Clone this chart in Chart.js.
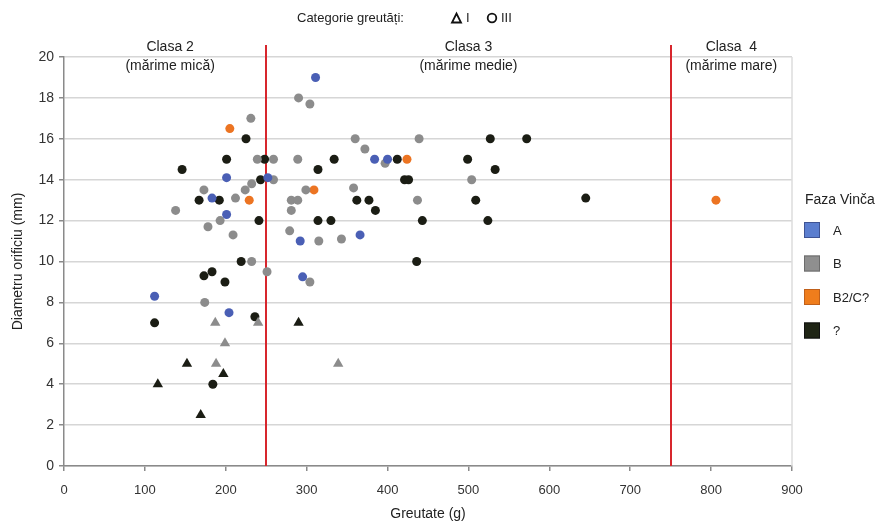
<!DOCTYPE html>
<html>
<head>
<meta charset="utf-8">
<script src="https://cdn.jsdelivr.net/npm/chart.js@4"></script>
<style>
  body { margin: 0; background: #fff; }
  canvas { display: block; }
</style>
</head>
<body>
<canvas id="chart" width="885" height="523"></canvas>
<script>
// --- data: weight (g) / orifice diameter (mm) ---
const phaseNames = ['A', 'B', 'B2/C?', '?'];

// category III (circles)
const aWeight = [112, 183, 201, 201, 204, 252, 292, 295, 311, 366, 384, 400];
const aDiam   = [8.3, 13.1, 12.3, 14.1, 7.5, 14.1, 11, 9.25, 19, 11.3, 15, 15];

const bWeight = [138, 173, 174, 178, 193, 209, 212, 224, 231, 232, 232, 239, 251, 259, 259, 279, 281, 281, 289, 289, 290, 299, 304, 304, 315, 343, 358, 360, 372, 397, 437, 439, 504];
const bDiam   = [12.5, 13.5, 8, 11.7, 12, 11.3, 13.1, 13.5, 17, 13.8, 10, 15, 9.5, 15, 14, 11.5, 13, 12.5, 13, 15, 18, 13.5, 17.7, 9, 11, 11.1, 13.6, 16, 15.5, 14.8, 13, 16, 14];

const cWeight = [205, 229, 309, 424, 806];
const cDiam   = [16.5, 13, 13.5, 15, 13];

const qWeight = [112, 146, 167, 173, 183, 184, 192, 199, 201, 219, 225, 236, 241, 243, 248, 314, 314, 330, 334, 362, 377, 385, 412, 421, 426, 436, 443, 499, 509, 524, 527, 533, 572, 645];
const qDiam   = [7, 14.5, 13, 9.3, 9.5, 4, 13, 9, 15, 10, 16, 7.3, 12, 14, 15, 14.5, 12, 12, 15, 13, 13, 12.5, 15, 14, 14, 10, 12, 15, 13, 12, 16, 14.5, 16, 13.1];

// category I (triangles)
const bTriWeight = [187, 188, 199, 240, 339];
const bTriDiam   = [7, 5, 6, 7, 5];
const qTriWeight = [116, 152, 169, 197, 290];
const qTriDiam   = [4, 5, 2.5, 4.5, 7];

// size classes
const classBounds = [0, 250, 750, 900];
const classTitles = ['Clasa 2', 'Clasa 3', 'Clasa  4'];
const classSubs = ['(mărime mică)', '(mărime medie)', '(mărime mare)'];

const pointColors = ['#4a5fb5', '#8c8c8c', '#ec7422', '#1b1d14'];
const boxColors = ['#5b7ecf', '#8f8f8f', '#ef7d1c', '#1f2515'];
const boxBorders = ['#3e5394', '#6c6c6c', '#c0601a', '#111'];

const FONT = '"Liberation Sans", Arial, Helvetica, sans-serif';

function pts(xs, ys, tri) {
  return xs.map((x, i) => ({x: x, y: ys[i], tri: tri}));
}

const series = [
  pts(aWeight, aDiam, false),
  pts(bWeight, bDiam, false).concat(pts(bTriWeight, bTriDiam, true)),
  pts(cWeight, cDiam, false),
  pts(qWeight, qDiam, false).concat(pts(qTriWeight, qTriDiam, true))
];

const datasets = phaseNames.map((name, i) => ({
  label: name,
  data: series[i],
  backgroundColor: pointColors[i],
  borderColor: pointColors[i],
  borderWidth: 0,
  pointStyle: ctx => (ctx.raw && ctx.raw.tri) ? 'triangle' : 'circle',
  pointRadius: ctx => (ctx.raw && ctx.raw.tri) ? 6 : 4.5
}));

// Extra drawing: class lines, class labels, top + right legends
const extras = {
  id: 'extras',
  beforeDatasetsDraw(chart) {
    const {ctx, chartArea, scales} = chart;
    ctx.save();
    // right border of plot
    ctx.strokeStyle = '#dcdcdc';
    ctx.lineWidth = 1.5;
    ctx.beginPath();
    ctx.moveTo(chartArea.right, chartArea.top);
    ctx.lineTo(chartArea.right, chartArea.bottom);
    ctx.stroke();
    // class boundaries
    ctx.strokeStyle = '#d7262d';
    ctx.lineWidth = 2;
    classBounds.slice(1, -1).forEach(v => {
      const px = Math.round(scales.x.getPixelForValue(v));
      ctx.beginPath();
      ctx.moveTo(px, 45);
      ctx.lineTo(px, chartArea.bottom);
      ctx.stroke();
    });
    ctx.restore();
  },
  afterDraw(chart) {
    const {ctx, scales} = chart;
    ctx.save();
    ctx.fillStyle = '#222';
    ctx.textBaseline = 'middle';
    // class labels
    ctx.textAlign = 'center';
    ctx.font = '14px ' + FONT;
    classTitles.forEach((t, i) => {
      const mid = scales.x.getPixelForValue((classBounds[i] + classBounds[i + 1]) / 2) + (i === 0 ? 5 : 0);
      ctx.fillText(t, mid, 47);
      ctx.fillText(classSubs[i], mid, 66);
    });
    // top legend: weight categories
    ctx.textAlign = 'left';
    ctx.font = '13px ' + FONT;
    ctx.fillText('Categorie greutăți:', 297, 18);
    ctx.strokeStyle = '#111';
    ctx.lineWidth = 1.8;
    ctx.beginPath();
    ctx.moveTo(452, 22.5);
    ctx.lineTo(461, 22.5);
    ctx.lineTo(456.5, 13.5);
    ctx.closePath();
    ctx.stroke();
    ctx.fillText('I', 466, 18);
    ctx.beginPath();
    ctx.arc(492, 18, 4.3, 0, Math.PI * 2);
    ctx.stroke();
    ctx.fillText('III', 501, 18);
    // right legend: Faza Vinča
    ctx.font = '14px ' + FONT;
    ctx.fillText('Faza Vinča', 805, 200);
    ctx.font = '13px ' + FONT;
    phaseNames.forEach((name, i) => {
      const cy = 230 + i * 33.5;
      ctx.fillStyle = boxColors[i];
      ctx.fillRect(804, cy - 8, 16, 16);
      ctx.strokeStyle = boxBorders[i];
      ctx.lineWidth = 1;
      ctx.strokeRect(804.5, cy - 7.5, 15, 15);
      ctx.fillStyle = '#222';
      ctx.fillText(name, 833, cy + 1);
    });
    ctx.restore();
  }
};

new Chart(document.getElementById('chart').getContext('2d'), {
  type: 'scatter',
  data: {datasets: datasets},
  options: {
    responsive: false,
    animation: false,
    layout: {padding: {left: 0, right: 93, top: 57, bottom: 0}},
    plugins: {legend: {display: false}, tooltip: {enabled: false}},
    scales: {
      x: {
        type: 'linear',
        min: 0, max: 900,
        afterFit: s => { s.height = 57; },
        ticks: {stepSize: 100, color: '#333', padding: 12, font: {family: FONT, size: 13}},
        grid: {drawOnChartArea: false, tickLength: 5, tickColor: '#8a8a8a', lineWidth: 1.5},
        border: {color: '#8a8a8a', width: 1.5},
        title: {display: true, text: 'Greutate (g)', color: '#222', font: {family: FONT, size: 14}, padding: {top: 0, bottom: 0}}
      },
      y: {
        min: 0, max: 20,
        afterFit: s => { s.width = 64; },
        ticks: {stepSize: 2, color: '#333', padding: 5, font: {family: FONT, size: 14}},
        grid: {color: '#d6d6d6', lineWidth: 1.5, tickLength: 5, tickColor: '#8a8a8a'},
        border: {color: '#8a8a8a', width: 1.5},
        title: {display: true, text: 'Diametru orificiu (mm)', color: '#222', font: {family: FONT, size: 14}, padding: {top: 10, bottom: 0}}
      }
    }
  },
  plugins: [extras]
});
</script>
</body>
</html>
